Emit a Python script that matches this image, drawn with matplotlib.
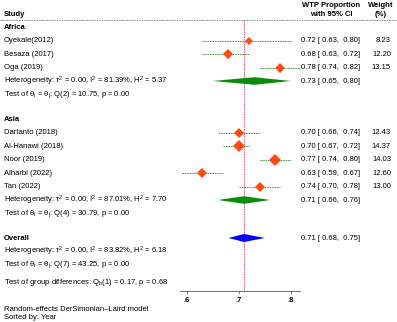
import numpy as np
import matplotlib
matplotlib.use("Agg")
import matplotlib.pyplot as plt
from matplotlib.transforms import blended_transform_factory
from matplotlib.lines import Line2D

plt.rcParams['font.family'] = ['Liberation Sans', 'DejaVu Sans']
plt.rcParams['mathtext.fontset'] = 'custom'
plt.rcParams['mathtext.rm'] = 'Liberation Sans'
plt.rcParams['mathtext.it'] = 'Liberation Sans'
plt.rcParams['mathtext.default'] = 'regular'

# study data
africa_names = ['Oyekale(2012)', 'Besaza (2017)', 'Oga (2019)']
africa_es = [0.72, 0.68, 0.78]
africa_lo = [0.63, 0.63, 0.74]
africa_hi = [0.80, 0.72, 0.82]
africa_w = [8.23, 12.20, 13.15]
africa_pool = [0.73, 0.65, 0.80]
africa_het = r'Heterogeneity: $\tau^2$ = 0.00, $I^2$ = 81.39%, $H^2$ = 5.37'
africa_test = r'Test of $\theta_i$ = $\theta_j$: Q(2) = 10.75, p = 0.00'

asia_names = ['Dartanto (2018)', 'Al-Hanawi (2018)', 'Noor (2019)', 'Alharbi (2022)', 'Tan (2022)']
asia_es = [0.70, 0.70, 0.77, 0.63, 0.74]
asia_lo = [0.66, 0.67, 0.74, 0.59, 0.70]
asia_hi = [0.74, 0.72, 0.80, 0.67, 0.78]
asia_w = [12.43, 14.37, 14.03, 12.60, 13.00]
asia_pool = [0.71, 0.66, 0.76]
asia_het = r'Heterogeneity: $\tau^2$ = 0.00, $I^2$ = 87.01%, $H^2$ = 7.70'
asia_test = r'Test of $\theta_i$ = $\theta_j$: Q(4) = 30.79, p = 0.00'

overall_pool = [0.71, 0.68, 0.75]
overall_het = r'Heterogeneity: $\tau^2$ = 0.00, $I^2$ = 83.82%, $H^2$ = 6.18'
overall_test = r'Test of $\theta_i$ = $\theta_j$: Q(7) = 43.25, p = 0.00'
group_test = r'Test of group differences: $Q_b$(1) = 0.17, p = 0.68'

xticks = [0.6, 0.7, 0.8]
xtick_labels = ['.6', '.7', '.8']

W, H = 397, 322
fs = 5.5
fig = plt.figure(figsize=(W / 100, H / 100), dpi=100)
ax = fig.add_axes([180 / W, 1 - 291 / H, 119.7 / W, 271 / H])
ax.set_xlim(0.587, 0.817)
ax.set_ylim(291, 20)
tr = blended_transform_factory(fig.transFigure, ax.transData)

def txt(px, y, s, bold=False, ha='left'):
    ax.text(px / W, y, s, transform=tr, fontsize=fs, ha=ha, va='center',
            fontweight='bold' if bold else 'normal', clip_on=False)

def fmt(es, lo, hi):
    return '%.2f [ %.2f,  %.2f]' % (es, lo, hi)

def diamond(pool, y, color, h):
    es, lo, hi = pool
    ax.fill([lo, es, hi, es], [y, y - h, y, y + h], color=color, lw=0)

# header
txt(4, 14, 'Study', bold=True)
txt(331, 5, 'WTP Proportion', bold=True, ha='center')
txt(331, 14.5, 'with 95% CI', bold=True, ha='center')
txt(381, 5, 'Weight', bold=True, ha='center')
txt(381, 14.5, '(%)', bold=True, ha='center')
fig.add_artist(Line2D([0, 1], [1 - 20 / H, 1 - 20 / H], transform=fig.transFigure,
                      color='#555555', lw=0.6, ls=(0, (1, 1))))

step = 13.5
y = 27
for gname, names, es, lo, hi, w, pool, het, test in [
        ('Africa', africa_names, africa_es, africa_lo, africa_hi, africa_w, africa_pool, africa_het, africa_test),
        ('Asia', asia_names, asia_es, asia_lo, asia_hi, asia_w, asia_pool, asia_het, asia_test)]:
    txt(4, y, gname, bold=True)
    for i in range(len(names)):
        y += step
        txt(4, y, names[i])
        ax.plot([lo[i], hi[i]], [y, y], color='#2e8b2e', lw=0.6, ls=(0, (2, 1)))
        ax.plot(es[i], y, marker='D', color='#ff4a14', ms=1.5 * np.sqrt(w[i]), mew=0)
        txt(301, y, fmt(es[i], lo[i], hi[i]))
        txt(391, y, '%.2f' % w[i], ha='right')
    y += step
    txt(4, y, het)
    diamond(pool, y, '#0a8a0a', 3.8)
    txt(301, y, fmt(*pool))
    y += step
    txt(4, y, test)
    y += 24.5

txt(4, y, 'Overall', bold=True)
diamond(overall_pool, y, '#0000ff', 4)
txt(301, y, fmt(*overall_pool))
y += step
txt(4, y, overall_het)
y += step
txt(4, y, overall_test)
y += 17
txt(4, y, group_test)

ax.axvline(overall_pool[0], color='#c8102e', lw=0.6, ls=(0, (1, 1)), zorder=0)

for s in ['top', 'left', 'right']:
    ax.spines[s].set_visible(False)
ax.spines['bottom'].set_color('#555555')
ax.spines['bottom'].set_linewidth(0.6)
ax.spines['bottom'].set_linestyle((0, (1, 1)))
ax.set_yticks([])
ax.set_xticks(xticks)
ax.set_xticklabels(xtick_labels, fontweight='bold')
ax.tick_params(axis='x', length=2.5, width=0.5, color='#555555', labelsize=fs, pad=1.5)

txt(4, 309, 'Random-effects DerSimonian\u2013Laird model')
txt(4, 317, 'Sorted by: Year')

fig.savefig('out.png', dpi=100)
